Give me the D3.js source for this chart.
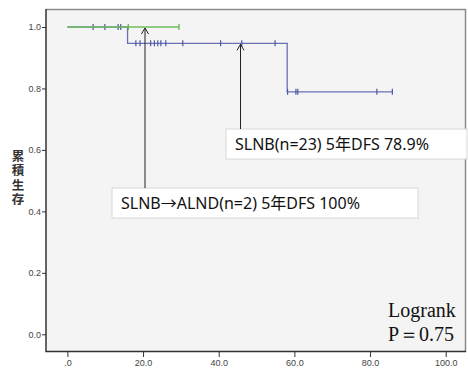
<!DOCTYPE html>
<html lang="ja">
<head>
<meta charset="UTF-8"/>
<title>DFS</title>
<script src="https://d3js.org/d3.v7.min.js"></script>
<style>
	body { margin: 0; background: #fff; }
	.tick text { font-family: "Liberation Sans Narrow", "Liberation Sans", sans-serif; font-size: 9px; fill: #444; }
	.tick line { stroke: #333; }
	.note { font-family: "Noto Sans", "Noto Sans CJK JP", sans-serif; font-size: 16px; fill: #111; }
</style>
</head>
<body>
<div id="chart"></div>
<script>
	var w = 468, h = 370;

	// Kaplan-Meier steps: [time, survival]
	var slnbSteps = [[0, 1.0], [15.9, 0.947], [58.1, 0.789]];
	var slnbEnd = 85.9;
	var slnbCensor = [6.8, 9.9, 13.4, 14.1, 18.1, 19.2, 22.0, 23.0, 23.9, 24.7, 26.0, 30.5, 40.5, 46.1, 54.9, 58.2, 60.4, 60.9, 81.8, 85.9];
	var alndSteps = [[0, 1.0]];
	var alndEnd = 29.5;
	var alndCensor = [16.1, 29.5];

	var xTicks = [0, 20, 40, 60, 80, 100];
	var yTicks = [0, 0.2, 0.4, 0.6, 0.8, 1.0];

	var x = d3.scaleLinear().domain([0, 100]).range([67.4, 445.7]);
	var y = d3.scaleLinear().domain([0, 1]).range([334.3, 27]);

	var svg = d3.select("#chart").append("svg").attr("width", w).attr("height", h);

	// plot area
	svg.append("rect").attr("x", 46).attr("y", 9).attr("width", 420).attr("height", 343)
		.attr("fill", "#f4f4f4");
	svg.append("path").attr("d", "M46,9.5H465.5V352").attr("fill", "none").attr("stroke", "#8a8a8a").attr("stroke-width", 1.5);
	svg.append("path").attr("d", "M46,9V351.5H466").attr("fill", "none").attr("stroke", "#333").attr("stroke-width", 1.5);

	var xAxis = d3.axisBottom(x).tickValues(xTicks).tickSize(5).tickFormat(function(d) { return d === 0 ? ".0" : d3.format(".1f")(d); });
	svg.append("g").attr("transform", "translate(0,352)").call(xAxis)
		.call(function(g) { g.select(".domain").remove(); });

	var yAxis = d3.axisLeft(y).tickValues(yTicks).tickSize(4).tickFormat(d3.format(".1f"));
	svg.append("g").attr("transform", "translate(46,0)").call(yAxis)
		.call(function(g) { g.select(".domain").remove(); g.selectAll("text").attr("x", -5); });

	// y label, vertical
	svg.append("text").attr("x", 18).attr("y", 150)
		.style("writing-mode", "vertical-rl").style("text-orientation", "upright")
		.style("font-family", "'Noto Sans CJK JP', sans-serif").style("font-size", "12.5px")
		.style("letter-spacing", "1.8px")
		.style("font-weight", "bold").attr("fill", "#333")
		.text("累積生存");

	function kmPath(steps, end) {
		var p = [];
		steps.forEach(function(s, i) {
			if (i > 0) p.push([s[0], steps[i - 1][1]]);
			p.push(s);
		});
		p.push([end, steps[steps.length - 1][1]]);
		return p;
	}
	function survAt(steps, t) {
		var v = steps[0][1];
		steps.forEach(function(s) { if (s[0] <= t) v = s[1]; });
		return v;
	}
	var line = d3.line().x(function(d) { return x(d[0]); }).y(function(d) { return y(d[1]); });

	function drawCurve(steps, end, censor, col, tickCol) {
		svg.append("path").datum(kmPath(steps, end)).attr("d", line)
			.attr("fill", "none").attr("stroke", col).attr("stroke-width", 1.3);
		svg.selectAll(null).data(censor).enter().append("line")
			.attr("x1", function(d) { return x(d); }).attr("x2", function(d) { return x(d); })
			.attr("y1", function(d) { return y(survAt(steps, d)) - 3; })
			.attr("y2", function(d) { return y(survAt(steps, d)) + 3; })
			.attr("stroke", tickCol).attr("stroke-width", 1.2);
	}
	drawCurve(slnbSteps, slnbEnd, slnbCensor, "#6a70b4", "#4a58a8");
	drawCurve(alndSteps, alndEnd, alndCensor, "#72bf5e", "#5fb04a");

	// annotation boxes and arrows
	function note(bx, by, bw, bh, txt, ax, tipT) {
		svg.append("rect").attr("x", bx).attr("y", by).attr("width", bw).attr("height", bh)
			.attr("fill", "#fff").attr("stroke", "#d8d8d8");
		svg.append("text").attr("class", "note").attr("x", bx + 9).attr("y", by + 21).text(txt);
		var ty = y(survAt(tipT.steps, tipT.t)) + 1;
		svg.append("line").attr("x1", ax).attr("x2", ax).attr("y1", by).attr("y2", ty)
			.attr("stroke", "#222").attr("stroke-width", 1);
		svg.append("path").attr("d", "M" + (ax - 3.5) + "," + (ty + 6) + "L" + ax + "," + ty + "L" + (ax + 3.5) + "," + (ty + 6))
			.attr("fill", "none").attr("stroke", "#222").attr("stroke-width", 1);
	}
	note(226, 129, 241, 30, "SLNB(n=23) 5年DFS 78.9%", 240.5, { steps: slnbSteps, t: 46 });
	note(112, 188, 306, 30, "SLNB→ALND(n=2) 5年DFS 100%", 145, { steps: alndSteps, t: 20 });

	// logrank
	var lr = svg.append("text").style("font-family", "'Liberation Serif', serif").style("font-size", "20px").attr("fill", "#111");
	lr.append("tspan").attr("x", 388).attr("y", 317).text("Logrank");
	lr.append("tspan").attr("x", 388).attr("y", 341).text("P＝0.75");
</script>
</body>
</html>
